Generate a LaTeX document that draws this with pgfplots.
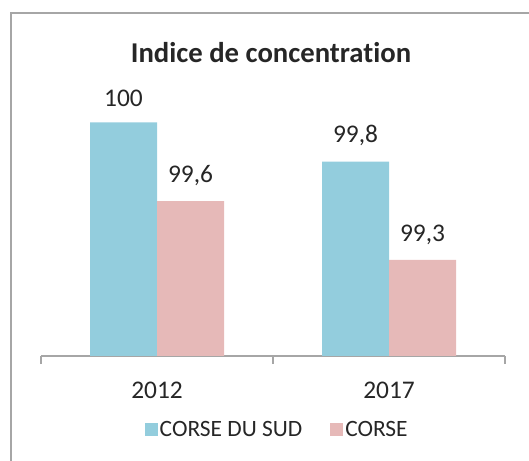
\documentclass[border=0pt]{standalone}
\usepackage{fontspec}
\setmainfont{Carlito}[Ligatures=NoCommon]
\usepackage{pgfplots}
\pgfplotsset{compat=1.18}
\definecolor{cblue}{HTML}{93CDDD}
\definecolor{cpink}{HTML}{E6B9B8}
\definecolor{txt}{HTML}{262626}
\definecolor{axg}{HTML}{A6A6A6}
\begin{document}
\begin{tikzpicture}
\useasboundingbox (0,0) rectangle (529bp,461bp);
\draw[axg, line width=1.3bp] (11bp,-5bp) -- (11bp,448bp) -- (540bp,448bp);
\node[font=\fontsize{28.8}{34}\selectfont\bfseries, text=txt] at (271bp,408bp) {Indice de concentration};
\begin{axis}[
  at={(41bp,105bp)}, anchor=south west,
  scale only axis, width=464bp, height=276bp,
  xmin=-0.5, xmax=1.5, ymin=98.811, ymax=100.216,
  axis x line=bottom, axis y line=none,
  x axis line style={-, axg, line width=1.2bp},
  xtick={0,1}, xticklabels={2012,2017},
  major x tick style={draw=none},
  extra x ticks={-0.5,0.5,1.5}, extra x tick labels={},
  extra x tick style={tick align=outside, major tick length=8bp, major x tick style={draw=axg, line width=1.2bp}},
  xticklabel style={font=\fontsize{25.5}{30}\selectfont, text=txt, yshift=-18bp},
  ybar=0pt, bar width=67bp,
  nodes near coords,
  /pgf/number format/.cd, use comma, fixed, precision=1, assume math mode=true, /pgfplots/.cd,
  every node near coord/.append style={font=\fontsize{25.5}{30}\selectfont, text=txt, anchor=south, yshift=12bp},
  legend style={at={(0.509,-0.268)}, anchor=center, draw=none, fill=none, legend columns=2,
    font=\fontsize{23.5}{28}\selectfont, text=txt,
    /tikz/every even column/.append style={column sep=26bp}},
  legend image code/.code={\fill[#1] (0bp,-6.5bp) rectangle (13bp,6.5bp);},
]
\addplot[fill=cblue, draw=none] coordinates {(0,100) (1,99.8)};
\addplot[fill=cpink, draw=none] coordinates {(0,99.6) (1,99.3)};
\legend{CORSE DU SUD, CORSE}
\end{axis}
\end{tikzpicture}
\end{document}
